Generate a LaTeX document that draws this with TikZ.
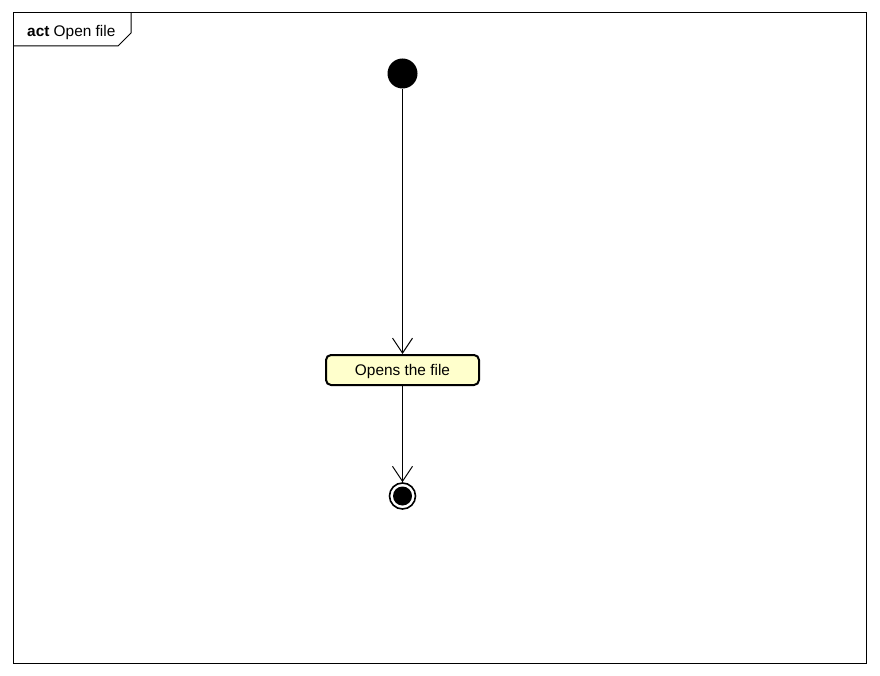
\documentclass[tikz,border=0pt]{standalone}
\usepackage{fontspec}
\setmainfont{Liberation Sans}
\usetikzlibrary{arrows.meta}
\tikzset{
  initial/.style={circle,fill=black,minimum size=30pt,inner sep=0pt},
  final/.style={circle,draw=black,line width=1.6pt,minimum size=26pt,inner sep=0pt},
  action/.style={draw=black,line width=2pt,rounded corners=5pt,fill={rgb,255:red,255;green,255;blue,204},
    minimum width=153pt,minimum height=30pt,inner sep=0pt,text depth=0pt,font=\fontsize{15.4}{17}\selectfont},
  flow/.style={line width=0.8pt,-{Straight Barb[length=15pt,width=20pt,line width=1pt]}}
}
\begin{document}
\begin{tikzpicture}[x=1pt,y=-1pt]
  \useasboundingbox (0,0) rectangle (880,676);
  % frame
  \draw[line width=1pt] (13,13) rectangle (866,663);
  \draw[line width=1pt] (13,46) -- (118,46) -- (131,33) -- (131,13);
  \node[anchor=base west,inner sep=0pt,font=\fontsize{15.4}{17}\selectfont] (title) at (27,36.5) {\textbf{act} Open file};
  % activity
  \node[initial] (start) at (402.5,73.5) {};
  \node[action] (opens) at (402.5,370) {Opens the file};
  \node[final] (stop) at (402.5,496) {};
  \fill (stop.center) circle (9.5pt);
  \draw[flow] (start) -- (opens);
  \draw[flow] (opens) -- (stop);
\end{tikzpicture}
\end{document}
